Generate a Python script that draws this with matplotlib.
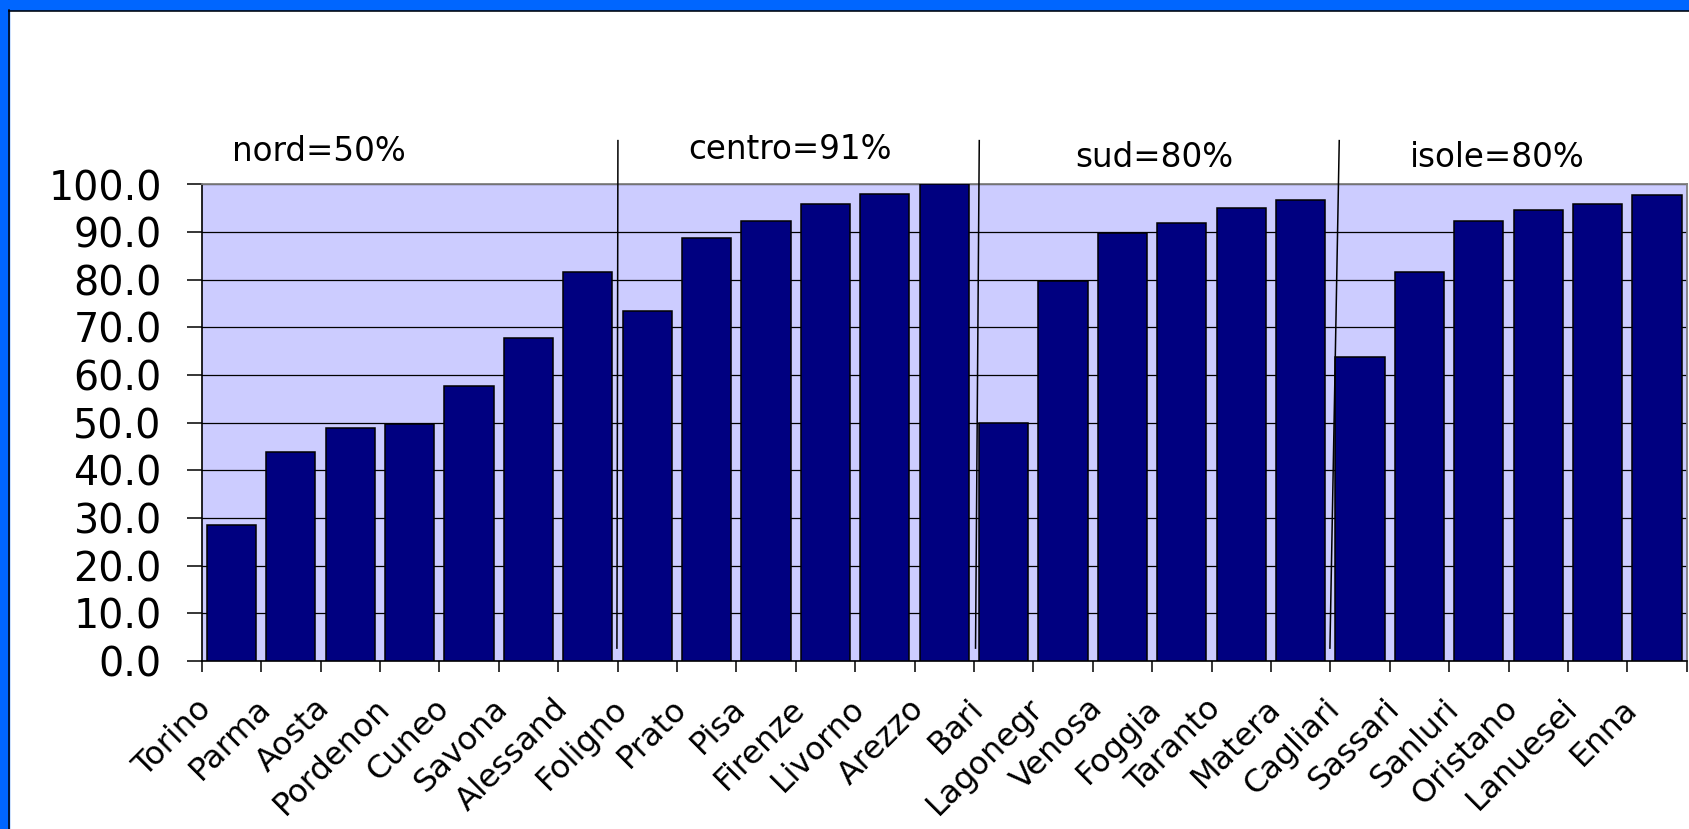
import matplotlib
matplotlib.use('Agg')
import matplotlib.pyplot as plt
from matplotlib.patches import Rectangle
from matplotlib.lines import Line2D
from matplotlib.transforms import ScaledTranslation, blended_transform_factory
import numpy as np

# ---------------- data ----------------
categories = ['Torino', 'Parma', 'Aosta', 'Pordenon', 'Cuneo', 'Savona', 'Alessand',
              'Foligno', 'Prato', 'Pisa', 'Firenze', 'Livorno', 'Arezzo',
              'Bari', 'Lagonegr', 'Venosa', 'Foggia', 'Taranto', 'Matera',
              'Cagliari', 'Sassari', 'Sanluri', 'Oristano', 'Lanuesei', 'Enna']
values = [28.6, 43.9, 48.8, 49.8, 57.7, 67.7, 81.6,
          73.5, 88.8, 92.3, 95.9, 98.1, 100.0,
          50.0, 79.8, 89.8, 92.0, 95.0, 96.8,
          63.7, 81.6, 92.3, 94.6, 96.0, 97.8]
group_labels = ['nord=50%', 'centro=91%', 'sud=80%', 'isole=80%']
group_sizes = [7, 6, 6, 6]
y_ticks = [0, 10, 20, 30, 40, 50, 60, 70, 80, 90, 100]

# ---------------- figure ----------------
plt.rcParams['font.family'] = ['DejaVu Sans']
W, H = 1689, 829
fig = plt.figure(figsize=(16.8905, 8.2905), dpi=100)
fig.patch.set_facecolor('white')

ax_left, ax_right, ax_top, ax_bottom = 201.7, 1686.7, 184.5, 661.0
ax = fig.add_axes([ax_left / W, (H - ax_bottom) / H,
                   (ax_right - ax_left) / W, (ax_bottom - ax_top) / H])
ax.set_facecolor('#CCCCFF')

x = np.arange(len(values))
ax.bar(x, values, width=0.83, color='#000080', edgecolor='black',
       linewidth=1.1, zorder=3)
ax.set_xlim(-0.5, len(values) - 0.5)
ax.set_ylim(0, 100)

ax.set_yticks(y_ticks)
ax.set_yticklabels([f'{v:.1f}' for v in y_ticks], fontsize=28.5)
ax.set_axisbelow(True)
ax.yaxis.grid(True, color='black', linewidth=0.9)
ax.set_xticks(np.arange(-0.5, len(values), 1.0))
ax.set_xticklabels([])
ax.tick_params(axis='x', length=8, width=1.1, direction='out', color='black')
ax.tick_params(axis='y', length=10.8, width=1.1, direction='out', pad=18,
               color='black')

for side in ('top', 'right'):
    ax.spines[side].set_color('#808080')
    ax.spines[side].set_linewidth(1.3)
for side in ('left', 'bottom'):
    ax.spines[side].set_color('black')
    ax.spines[side].set_linewidth(1.2)

# rotated category labels (Excel style: right end near the category's left edge)
blend = blended_transform_factory(ax.transData, ax.transAxes)
lab_trans = blend + ScaledTranslation(-6 / 100, -32 / 100, fig.dpi_scale_trans)
for i, lab in enumerate(categories):
    ax.text(i - 0.5, 0, lab, rotation=45, rotation_mode='anchor',
            ha='right', va='top', fontsize=23, transform=lab_trans,
            clip_on=False)

# group dividers (hand-drawn, slightly slanted)
bounds = np.cumsum(group_sizes)[:-1] - 0.5
top_off = [0.007, 0.09, 0.15]
bot_off = [-0.01, 0.027, -0.007]
for b, t, d in zip(bounds, top_off, bot_off):
    ax.add_line(Line2D([b + t, b + d], [1.092, 0.027], transform=blend,
                       color='black', linewidth=1.1, clip_on=False, zorder=6))

# group labels
grp_pos = [(0.0206, 1.050), (0.3273, 1.0529), (0.588, 1.0374), (0.8133, 1.0374)]
for lab, (gx, gy) in zip(group_labels, grp_pos):
    ax.text(gx, gy, lab, transform=ax.transAxes, ha='left', va='baseline',
            fontsize=23.5, clip_on=False)

# blue slide frame (top and left)
blue = '#0066FF'
fig.add_artist(Rectangle((0, (H - 10.5) / H), 1, 10.5 / H,
                         transform=fig.transFigure, color=blue, zorder=20))
fig.add_artist(Rectangle((0, 0), 8.5 / W, 1, transform=fig.transFigure,
                         color=blue, zorder=20))
fig.add_artist(Line2D([8.5 / W, 1], [(H - 11.2) / H] * 2,
                      transform=fig.transFigure, color='black', lw=1.1, zorder=21))
fig.add_artist(Line2D([9.2 / W] * 2, [0, (H - 10.5) / H],
                      transform=fig.transFigure, color='black', lw=1.1, zorder=21))

fig.savefig('out.png', dpi=100)
